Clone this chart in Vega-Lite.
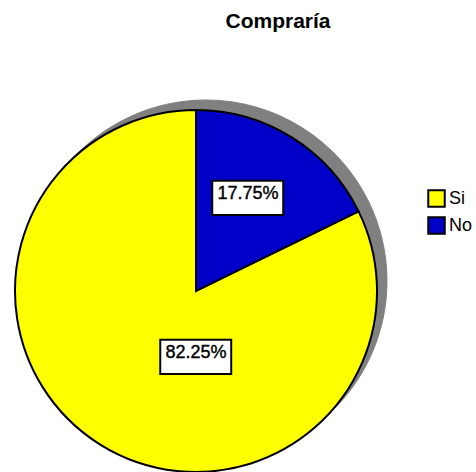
{
  "$schema": "https://vega.github.io/schema/vega-lite/v6.json",
  "width": 392,
  "height": 362,
  "autosize": {"type": "none"},
  "padding": {"left": 0, "top": 110, "right": 84, "bottom": 0},
  "background": "white",
  "title": {"text": "Compraría", "font": "Liberation Sans", "fontSize": 21, "fontWeight": "bold", "color": "black", "anchor": "middle", "frame": "group", "dx": 82, "offset": 66},
  "data": {"values": [
    {"cat": "Si", "share": 0.8225, "ord": 2},
    {"cat": "No", "share": 0.1775, "ord": 1}
  ]},
  "layer": [
    {
      "mark": {"type": "arc", "outerRadius": 181, "xOffset": 10, "yOffset": -10, "fill": "#808080", "stroke": "#808080", "strokeWidth": 1},
      "encoding": {
        "theta": {"field": "share", "type": "quantitative", "stack": true},
        "order": {"field": "ord", "type": "quantitative"}
      }
    },
    {
      "mark": {"type": "arc", "outerRadius": 181, "stroke": "black", "strokeWidth": 2},
      "encoding": {
        "theta": {"field": "share", "type": "quantitative", "stack": true},
        "order": {"field": "ord", "type": "quantitative"},
        "color": {"field": "cat", "type": "nominal", "scale": {"domain": ["Si", "No"], "range": ["#FFFF00", "#0000C8"]},
          "legend": {"title": null, "orient": "none", "legendX": 427, "legendY": 79, "symbolType": "square", "symbolSize": 272, "symbolStrokeColor": "black", "symbolStrokeWidth": 2, "symbolOpacity": 1, "labelFont": "Liberation Sans", "labelFontSize": 18, "labelColor": "black", "rowPadding": 2, "labelOffset": 3}}
      }
    },
    {
      "transform": [
        {"stack": "share", "groupby": [], "sort": [{"field": "ord", "order": "ascending"}], "as": ["s0", "s1"]},
        {"filter": "datum.cat === 'No'"}
      ],
      "encoding": {"theta": {"field": "s0", "type": "quantitative", "stack": null}},
      "layer": [
        {"mark": {"type": "text", "font": "DejaVu Sans", "fontSize": 93, "text": "▬", "fill": "white", "stroke": "black", "strokeWidth": 2, "baseline": "middle", "align": "center", "radius": 110, "thetaOffset": 0.492}},
        {"mark": {"type": "text", "font": "Liberation Sans", "fontSize": 18, "text": "17.75%", "fill": "black", "stroke": "black", "strokeWidth": 0.4, "baseline": "middle", "align": "center", "radius": 110, "thetaOffset": 0.492}}
      ]
    },
    {
      "transform": [
        {"stack": "share", "groupby": [], "sort": [{"field": "ord", "order": "ascending"}], "as": ["s0", "s1"]},
        {"filter": "datum.cat === 'Si'"}
      ],
      "encoding": {"theta": {"field": "s0", "type": "quantitative", "stack": null}},
      "layer": [
        {"mark": {"type": "text", "font": "DejaVu Sans", "fontSize": 93, "text": "▬", "fill": "white", "stroke": "black", "strokeWidth": 2, "baseline": "middle", "align": "center", "radius": 62, "thetaOffset": 2.0263}},
        {"mark": {"type": "text", "font": "Liberation Sans", "fontSize": 18, "text": "82.25%", "fill": "black", "stroke": "black", "strokeWidth": 0.4, "baseline": "middle", "align": "center", "radius": 62, "thetaOffset": 2.0263}}
      ]
    }
  ]
}
